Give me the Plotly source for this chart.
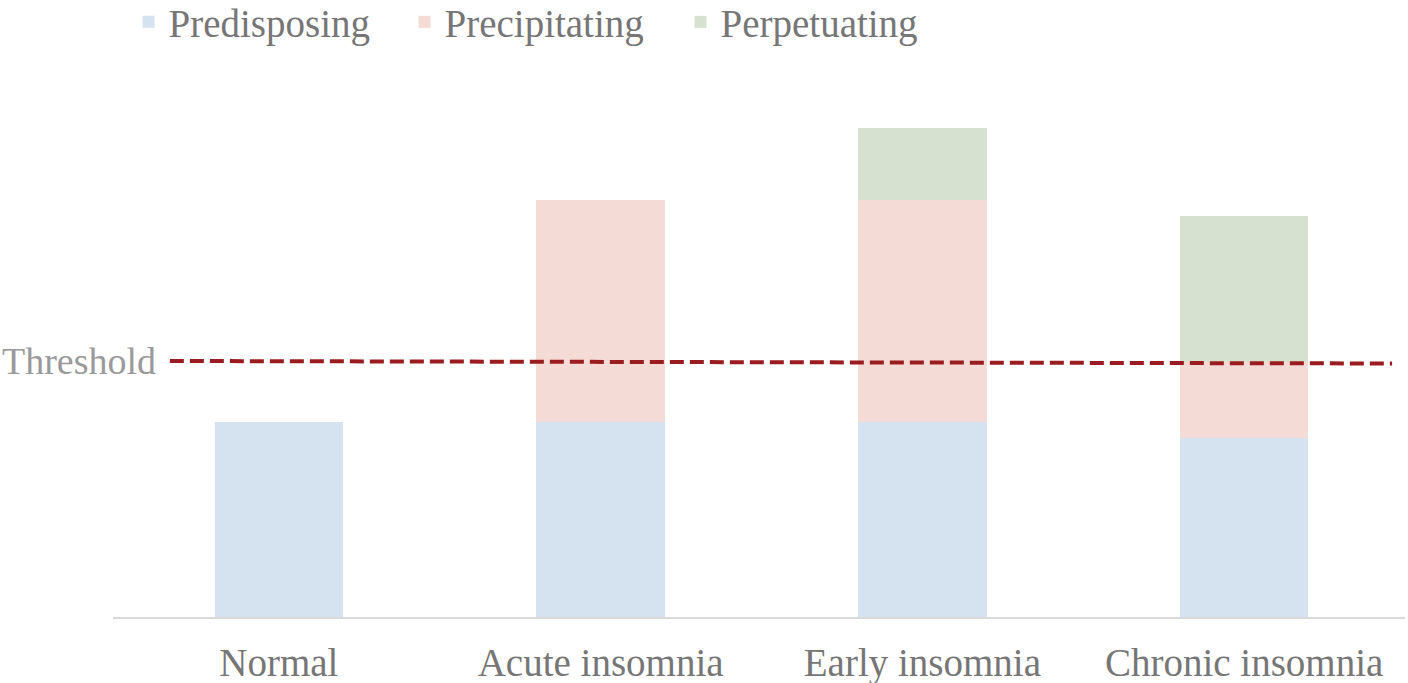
import plotly.graph_objects as go

categories = ['Normal', 'Acute insomnia', 'Early insomnia', 'Chronic insomnia']
predisposing = [19.5, 19.5, 19.5, 17.9]
precipitating = [0, 22.2, 22.2, 7.6]
perpetuating = [0, 0, 7.2, 14.6]
threshold_ends = [25.6, 25.35]

colors = {'Predisposing': '#d5e2f0', 'Precipitating': '#f5dbd5', 'Perpetuating': '#d6e2cf'}
serif = 'Liberation Serif'

fig = go.Figure()
for name, vals in [('Predisposing', predisposing),
                   ('Precipitating', precipitating),
                   ('Perpetuating', perpetuating)]:
    fig.add_trace(go.Bar(x=categories, y=vals, name=name,
                         marker=dict(color=colors[name], line=dict(width=0))))

# dashed threshold line
fig.add_shape(type='line', xref='paper', yref='y',
              x0=0.044, x1=0.990, y0=threshold_ends[0], y1=threshold_ends[1],
              line=dict(color='#9b1c20', width=4, dash='14px,6px'))
fig.add_annotation(text='Threshold', xref='paper', yref='y', x=0.035, y=threshold_ends[0],
                   xanchor='right', yanchor='middle', showarrow=False,
                   font=dict(family=serif, size=38, color='#9a9a9a'))

fig.update_layout(
    barmode='stack', bargap=0.6,
    width=1408, height=683,
    margin=dict(l=113, r=3, t=117, b=66, autoexpand=False),
    plot_bgcolor='white', paper_bgcolor='white',
    font=dict(family=serif, size=39, color='#767676'),
    legend=dict(orientation='h', x=0.012, y=1.254, xanchor='left', yanchor='top',
                font=dict(family=serif, size=39, color='#767676'), itemwidth=30,
                entrywidth=231, entrywidthmode='pixels', traceorder='normal'),
    showlegend=True,
)
fig.update_xaxes(showline=True, linecolor='#d9d9d9', linewidth=2, ticks='',
                 range=[-0.5155, 3.5], ticklabelstandoff=10, showgrid=False,
                 automargin=False)
fig.update_yaxes(range=[0, 50], visible=False, showgrid=False, automargin=False)

# drop the default 8px body margin so the figure fills the window
fig.write_html('out.html', config={'displayModeBar': False},
               post_script="document.body.style.margin='0';")
